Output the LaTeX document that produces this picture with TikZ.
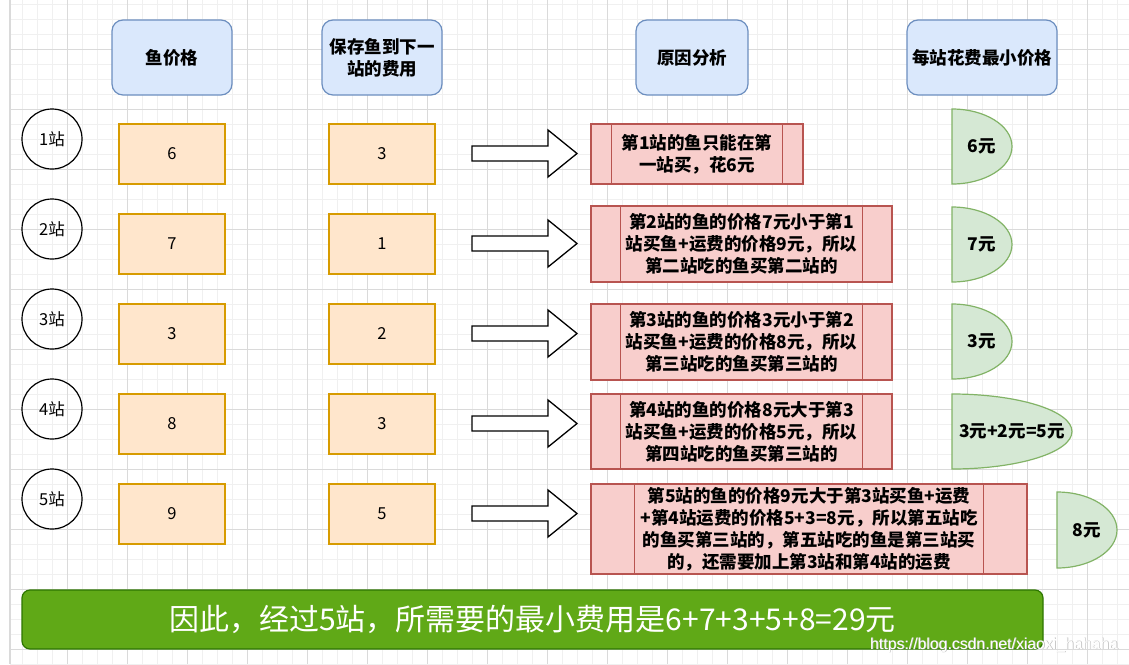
\documentclass[tikz,border=0pt]{standalone}
\usepackage{fontspec}
\setmainfont{Noto Sans CJK SC}
\newfontfamily\wmfont{Liberation Sans}
\definecolor{hdrfill}{HTML}{DAE8FC}
\definecolor{hdrline}{HTML}{6C8EBF}
\definecolor{valfill}{HTML}{FFE6CC}
\definecolor{valline}{HTML}{D79B00}
\definecolor{procfill}{HTML}{F8CECC}
\definecolor{procline}{HTML}{B85450}
\definecolor{dlyfill}{HTML}{D5E8D4}
\definecolor{dlyline}{HTML}{82B366}
\definecolor{barfill}{HTML}{60A917}
\definecolor{barline}{HTML}{2D7600}
\definecolor{gridmin}{HTML}{F0F0F0}
\definecolor{gridmaj}{HTML}{DADADA}
\newcommand{\bigtxt}{\bfseries\fontsize{17.5}{22}\selectfont}
\newcommand{\dlyshape}[6]{%
  \draw[dly] (#1,#2)
    .. controls ({#1+0.5523*(#3-#1)},#2) and (#3,{(#2+#4)/2-0.5523*(#4-#2)/2}) .. (#3,{(#2+#4)/2})
    .. controls (#3,{(#2+#4)/2+0.5523*(#4-#2)/2}) and ({#1+0.5523*(#3-#1)},#4) .. (#1,#4)
    -- cycle;
  \node[font=\bigtxt] (#5) at ({(#1+#3)/2},{(#2+#4)/2}) {#6};}
\newcommand{\blockarrow}[2]{%
  \coordinate (#1) at (472,#2);
  \draw[blk] (#1) ++(0,-7.5) -- ++(76,0) -- ++(0,-16) -- ++(29,23.5) -- ++(-29,23.5) -- ++(0,-16) -- ++(-76,0) -- cycle;}
\newcommand{\innerlines}[2]{%
  \draw[procline, line width=1.2pt] ([xshift=#2pt]#1.north west) -- ([xshift=#2pt]#1.south west);
  \draw[procline, line width=1.2pt] ([xshift=-#2pt]#1.north east) -- ([xshift=-#2pt]#1.south east);}
\begin{document}
\begin{tikzpicture}[x=1pt,y=-1pt,
  gridminor/.style={draw=gridmin, line width=0.6pt},
  gridmajor/.style={draw=gridmaj, line width=0.8pt},
  hdr/.style={draw=hdrline, fill=hdrfill, line width=1.2pt, rounded corners=11pt, align=center, inner sep=0pt, font=\bigtxt},
  val/.style={draw=valline, fill=valfill, line width=1.2pt, minimum width=106pt, minimum height=60pt, inner sep=0pt, font=\fontsize{16.5}{20}\selectfont},
  stn/.style={draw=black, circle, line width=1.2pt, minimum size=60pt, inner sep=0pt, font=\fontsize{16.5}{20}\selectfont},
  proc/.style={draw=procline, fill=procfill, line width=1.2pt, align=center, inner sep=0pt, font=\bigtxt},
  dly/.style={draw=dlyline, fill=dlyfill, line width=1.2pt},
  blk/.style={draw=black, fill=white, line width=1.3pt, line join=miter},
  bar/.style={draw=barline, fill=barfill, line width=1.2pt, rounded corners=8pt, text=white, inner sep=0pt, font=\fontsize{30}{34}\selectfont}
]
\useasboundingbox (0,0) rectangle (1129,664);
\fill[white] (0,0) rectangle (1129,664);
% grid
\foreach \x in {22,37,...,1129} \draw[gridminor] (\x,0) -- (\x,664);
\foreach \y in {4,19,...,664} \draw[gridminor] (10,\y) -- (1129,\y);
\foreach \x in {67,127,...,1129} \draw[gridmajor] (\x,0) -- (\x,664);
\foreach \y in {49,109,...,664} \draw[gridmajor] (10,\y) -- (1129,\y);
\draw[draw=gridmaj, line width=2pt] (10,0) -- (10,664);

% headers
\node[hdr, minimum width=120pt, minimum height=75pt] (h1) at (172,57.5) {鱼价格};
\node[hdr, minimum width=120pt, minimum height=75pt] (h2) at (382,57.5) {保存鱼到下一\\站的费用};
\node[hdr, minimum width=112pt, minimum height=75pt] (h3) at (692,57.5) {原因分析};
\node[hdr, minimum width=150pt, minimum height=75pt] (h4) at (982,57.5) {每站花费最小价格};

% stations
\node[stn] (s1) at (52,139) {1站};
\node[stn] (s2) at (52,229) {2站};
\node[stn] (s3) at (52,319) {3站};
\node[stn] (s4) at (52,409) {4站};
\node[stn] (s5) at (52,499) {5站};

% values
\node[val] (v1) at (172,154) {6};
\node[val] (v2) at (172,244) {7};
\node[val] (v3) at (172,334) {3};
\node[val] (v4) at (172,424) {8};
\node[val] (v5) at (172,514) {9};
\node[val] (c1) at (382,154) {3};
\node[val] (c2) at (382,244) {1};
\node[val] (c3) at (382,334) {2};
\node[val] (c4) at (382,424) {3};
\node[val] (c5) at (382,514) {5};

% block arrows
\blockarrow{a1}{153.5}
\blockarrow{a2}{243.5}
\blockarrow{a3}{333.5}
\blockarrow{a4}{423.5}
\blockarrow{a5}{513.5}

% process boxes
\node[proc, minimum width=212pt, minimum height=60pt] (p1) at (697,154) {第1站的鱼只能在第\\一站买，花6元};
\innerlines{p1}{21}
\node[proc, minimum width=301pt, minimum height=76pt] (p2) at (741.5,244) {第2站的鱼的价格7元小于第1\\站买鱼+运费的价格9元，所以\\第二站吃的鱼买第二站的};
\innerlines{p2}{30}
\node[proc, minimum width=301pt, minimum height=76pt] (p3) at (741.5,342) {第3站的鱼的价格3元小于第2\\站买鱼+运费的价格8元，所以\\第三站吃的鱼买第三站的};
\innerlines{p3}{30}
\node[proc, minimum width=301pt, minimum height=75pt] (p4) at (741.5,431.5) {第4站的鱼的价格8元大于第3\\站买鱼+运费的价格5元，所以\\第四站吃的鱼买第三站的};
\innerlines{p4}{30}
\node[proc, minimum width=436pt, minimum height=90pt] (p5) at (809,529) {第5站的鱼的价格9元大于第3站买鱼+运费\\+第4站运费的价格5+3=8元，所以第五站吃\\的鱼买第三站的，第五站吃的鱼是第三站买\\的，还需要加上第3站和第4站的运费};
\innerlines{p5}{44}

% delay shapes
\dlyshape{952}{109}{1012}{184}{d1}{6元}
\dlyshape{952}{207}{1012}{282}{d2}{7元}
\dlyshape{952}{304}{1012}{379}{d3}{3元}
\dlyshape{952}{394}{1072}{469}{d4}{3元+2元=5元}
\dlyshape{1057}{492}{1117}{568}{d5}{8元}

% summary bar
\node[bar, minimum width=1021pt, minimum height=59pt] (bar) at (532.5,619.5) {因此，经过5站，所需要的最小费用是6+7+3+5+8=29元};

% watermark
\node[anchor=base west, inner sep=0pt, text=gray!55, font=\wmfont\fontsize{15.8}{18}\selectfont] (wms) at (870.7,649.7) {https://blog.csdn.net/xiaoxi\_hahaha};
\node[anchor=base west, inner sep=0pt, text=white, font=\wmfont\fontsize{15.8}{18}\selectfont] (wm) at (870,649) {https://blog.csdn.net/xiaoxi\_hahaha};
\end{tikzpicture}
\end{document}
